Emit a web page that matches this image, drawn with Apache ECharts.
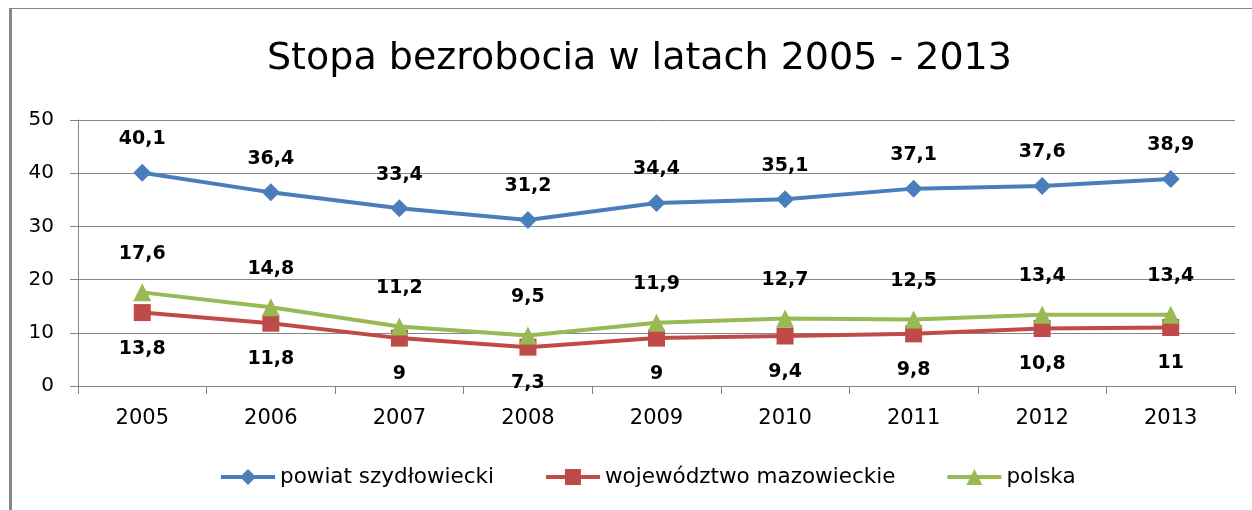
<!DOCTYPE html>
<html>
<head>
<meta charset="utf-8">
<script src="https://cdn.jsdelivr.net/npm/echarts@6/dist/echarts.min.js"></script>
<style>
  html, body { margin: 0; padding: 0; background: #fff; }
  #chart { width: 1252px; height: 510px; }
</style>
</head>
<body>
<div id="chart"></div>
<script>
// dane
const lata = ['2005', '2006', '2007', '2008', '2009', '2010', '2011', '2012', '2013'];
const powiat = [40.1, 36.4, 33.4, 31.2, 34.4, 35.1, 37.1, 37.6, 38.9];
const wojewodztwo = [13.8, 11.8, 9, 7.3, 9, 9.4, 9.8, 10.8, 11];
const polska = [17.6, 14.8, 11.2, 9.5, 11.9, 12.7, 12.5, 13.4, 13.4];
const nazwy = ['powiat szydłowiecki', 'województwo mazowieckie', 'polska'];

const font = '"DejaVu Sans", sans-serif';
const szary = '#868686';

const myChart = echarts.init(document.getElementById('chart'), null, { renderer: 'canvas' });

const etykieta = (pos, dist) => ({
  show: true,
  position: pos,
  distance: dist,
  fontFamily: font,
  fontSize: 19,
  fontWeight: 'bold',
  color: '#000',
  formatter: (p) => String(p.value).replace('.', ','),
});

const option = {
  backgroundColor: '#fff',
  animation: false,
  title: {
    text: 'Stopa bezrobocia w latach 2005 - 2013',
    left: 262,
    top: 35,
    textStyle: { fontFamily: font, fontSize: 38, fontWeight: 'normal', color: '#000' },
  },
  legend: {
    data: nazwy,
    top: 461,
    left: 214,
    itemGap: 50,
    itemWidth: 54,
    itemHeight: 20,
    lineStyle: { width: 4 },
    textStyle: { fontFamily: font, fontSize: 21.5, color: '#000' },
  },
  grid: { left: 78, right: 17, top: 120, bottom: 124 },
  xAxis: {
    type: 'category',
    data: lata,
    boundaryGap: true,
    axisLine: { lineStyle: { color: szary, width: 1 } },
    axisTick: { show: true, length: 8, lineStyle: { color: szary } },
    axisLabel: { fontFamily: font, fontSize: 21, color: '#000', margin: 22 },
  },
  yAxis: {
    type: 'value',
    min: 0,
    max: 50,
    interval: 10,
    axisLine: { show: true, lineStyle: { color: szary, width: 1 } },
    axisTick: { show: true, length: 8, lineStyle: { color: szary } },
    axisLabel: { fontFamily: font, fontSize: 20, color: '#000', margin: 24 },
    splitLine: { show: true, lineStyle: { color: szary, width: 1 } },
  },
  series: [
    {
      name: nazwy[0],
      type: 'line',
      data: powiat,
      symbol: 'diamond',
      symbolSize: 18,
      lineStyle: { color: '#4A7EBB', width: 4 },
      itemStyle: { color: '#4A7EBB' },
      label: etykieta('top', 15),
      z: 3,
    },
    {
      name: nazwy[1],
      type: 'line',
      data: wojewodztwo,
      symbol: 'rect',
      symbolSize: 17,
      lineStyle: { color: '#BE4B48', width: 4 },
      itemStyle: { color: '#BE4B48' },
      label: etykieta('bottom', 18),
      z: 2,
    },
    {
      name: nazwy[2],
      type: 'line',
      data: polska,
      symbol: 'triangle',
      symbolSize: 18,
      lineStyle: { color: '#98B954', width: 4 },
      itemStyle: { color: '#98B954' },
      label: etykieta('top', 20),
      z: 4,
    },
  ],
  graphic: [
    { type: 'rect', shape: { x: 9, y: 8, width: 3, height: 502 }, style: { fill: szary } },
    { type: 'line', shape: { x1: 9, y1: 8.5, x2: 1252, y2: 8.5 }, style: { stroke: szary, lineWidth: 1 } },
  ],
};

myChart.setOption(option);
</script>
</body>
</html>
